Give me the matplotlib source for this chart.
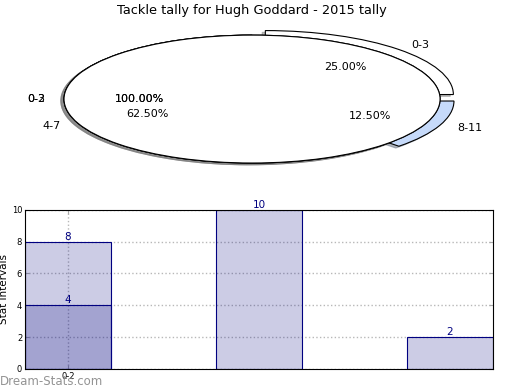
import matplotlib
matplotlib.use("Agg")
from matplotlib import pyplot as plt

# pie data
pie_labels = ["0-3", "4-7", "8-11"]
pie_values = [25.0, 62.5, 12.5]
pie_colors = ["white", "white", "#c6dafa"]
pie_explode = [0.1, 0, 0.08]

full_labels = ["0-3", "0-2"]

# histogram data
bar_pos = [0, 1, 2]
bar_heights = [8, 10, 2]
inner_pos = [0]
inner_heights = [4]
tick_pos = [0]
tick_labels = ["0-2"]


def main():
    fig = plt.figure(figsize=(5.2, 3.9), dpi=100)

    ax1 = fig.add_axes([0.0327, 0.541, 0.904, 0.41])
    wp = {"edgecolor": "black", "linewidth": 0.8}
    sh = {"ox": -0.012, "oy": -0.02, "shade": 0.5}
    ax1.pie(pie_values, labels=pie_labels, colors=pie_colors,
            explode=pie_explode, autopct="%.2f%%", shadow=sh,
            wedgeprops=wp, textprops={"fontsize": 8})
    for lab in full_labels:
        ax1.pie([100], labels=[lab], colors=["white"], autopct="%.2f%%",
                shadow=sh, wedgeprops=wp, textprops={"fontsize": 8})
    ax1.set_aspect("auto")
    ax1.set_xlim(-1.25, 1.25)
    ax1.set_ylim(-1.25, 1.25)
    ax1.set_title("Tackle tally for Hugh Goddard - 2015 tally", fontsize=9.3, pad=4)

    ax2 = fig.add_axes([0.048, 0.054, 0.9, 0.408])
    face = (0, 0, 0.5, 0.2)
    ax2.bar(bar_pos, bar_heights, width=0.45, facecolor=face,
            edgecolor="navy", linewidth=0.8)
    ax2.bar(inner_pos, inner_heights, width=0.45, facecolor=face,
            edgecolor="navy", linewidth=0.8)
    for x, h in zip(bar_pos + inner_pos, bar_heights + inner_heights):
        ax2.text(x, h, str(h), ha="center", va="bottom", color="navy", fontsize=7.5)
    ax2.set_xlim(-0.225, 2.225)
    ax2.set_ylim(0, 10)
    ax2.set_yticks([0, 2, 4, 6, 8, 10])
    ax2.set_xticks(tick_pos)
    ax2.set_xticklabels(tick_labels)
    ax2.tick_params(labelsize=6, direction="in", right=True, top=True, length=3,
                    color="#aaaaaa", pad=2)
    ax2.grid(True, linestyle=":", color="#b8b8b8", linewidth=1)
    ax2.set_axisbelow(True)
    for sp in ax2.spines.values():
        sp.set_zorder(5)
    ax2.set_ylabel("Stat Intervals", fontsize=7.5, labelpad=2)
    ax2.set_xlabel("Frequency", fontsize=7.5, labelpad=8)

    fig.text(0.0, 0.012, "Dream-Stats.com", fontsize=8.5, color="#888888", alpha=0.9)

    fig.savefig("out.png", dpi=100)


if __name__ == "__main__":
    main()
